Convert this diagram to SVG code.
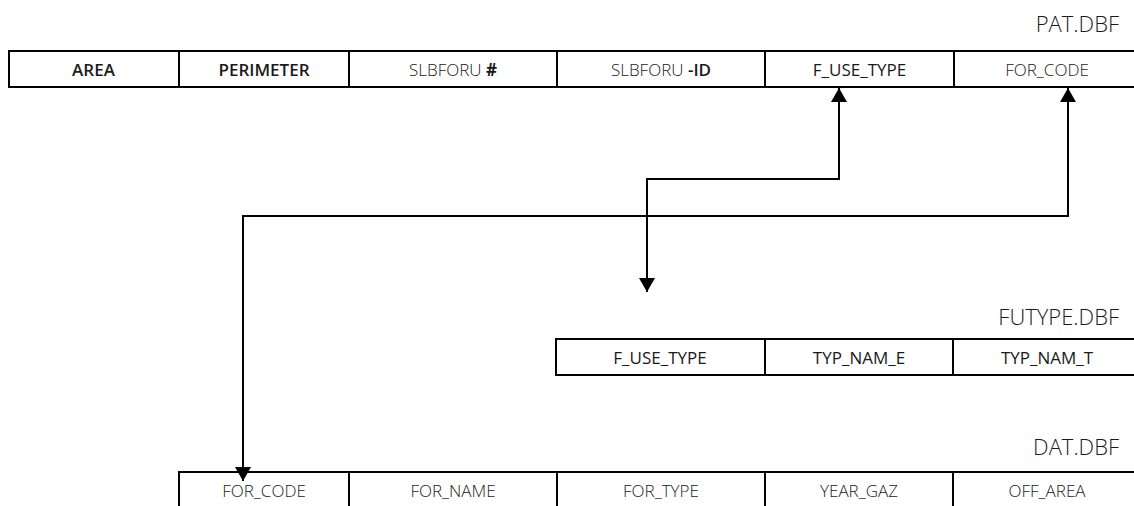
<svg xmlns="http://www.w3.org/2000/svg" width="1134" height="506" viewBox="0 0 1134 506">
<style>
.tbl{fill:none;stroke:#000;stroke-width:2}
.cell{font-family:"Open Sans","Noto Sans",sans-serif;font-size:17px;fill:#1a1a1a;text-anchor:middle}
.lt{font-weight:300}
.rg{font-weight:400}
.sb{font-weight:600}
.bd{font-weight:700}
.title{font-family:"Open Sans","Noto Sans",sans-serif;font-size:22px;font-weight:300;fill:#1a1a1a;text-anchor:end}
.conn{fill:none;stroke:#000;stroke-width:2}
</style>
<defs>
<marker id="ah" viewBox="0 0 14 16" refX="14" refY="8" markerWidth="14" markerHeight="16" markerUnits="userSpaceOnUse" orient="auto-start-reverse">
<path d="M0,0 L14,8 L0,16 z" fill="#000"/>
</marker>
</defs>
<rect width="1134" height="506" fill="#fff"/>

<g id="pat">
<text class="title" x="1119" y="32">PAT.DBF</text>
<rect class="tbl" x="9" y="51" width="1140" height="36"/>
<path class="tbl" d="M179,51V87M349,51V87M557,51V87M765,51V87M954,51V87"/>
<text class="cell sb" x="93.5" y="75.5">AREA</text>
<text class="cell sb" x="264" y="75.5">PERIMETER</text>
<text class="cell lt" x="453" y="75.5">SLBFORU <tspan class="bd">#</tspan></text>
<text class="cell lt" x="661" y="75.5">SLBFORU <tspan class="sb">-ID</tspan></text>
<text class="cell rg" x="859.5" y="75.5">F_USE_TYPE</text>
<text class="cell lt" x="1047" y="75.5">FOR_CODE</text>
</g>

<g id="futype">
<text class="title" x="1119" y="325">FUTYPE.DBF</text>
<rect class="tbl" x="556" y="339" width="600" height="36"/>
<path class="tbl" d="M765,339V375M953,339V375"/>
<text class="cell rg" x="660" y="363.5">F_USE_TYPE</text>
<text class="cell rg" x="859" y="363.5">TYP_NAM_E</text>
<text class="cell rg" x="1047" y="363.5">TYP_NAM_T</text>
</g>

<g id="dat">
<text class="title" x="1119" y="455">DAT.DBF</text>
<rect class="tbl" x="179" y="472" width="980" height="60"/>
<path class="tbl" d="M349,472V506M557,472V506M765,472V506M953,472V506"/>
<text class="cell lt" x="264" y="497">FOR_CODE</text>
<text class="cell lt" x="453" y="497">FOR_NAME</text>
<text class="cell lt" x="661" y="497">FOR_TYPE</text>
<text class="cell lt" x="859" y="497">YEAR_GAZ</text>
<text class="cell lt" x="1047" y="497">OFF_AREA</text>
</g>

<g id="connectors">
<path class="conn" d="M839,88V179H647V292" marker-start="url(#ah)" marker-end="url(#ah)"/>
<path class="conn" d="M1068,88V216H243V481" marker-start="url(#ah)" marker-end="url(#ah)"/>
</g>
</svg>
